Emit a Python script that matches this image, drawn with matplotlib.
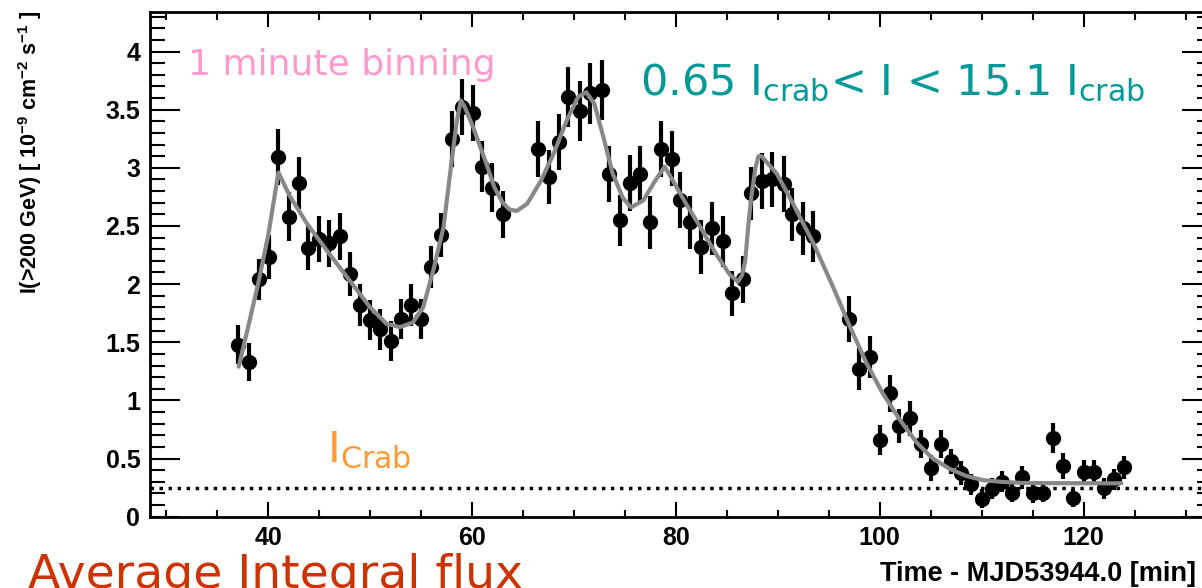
import matplotlib
matplotlib.use("Agg")
import matplotlib.pyplot as plt
from matplotlib.ticker import MultipleLocator, FormatStrFormatter

# 1-minute binned integral flux above 200 GeV, in units of 1e-9 cm^-2 s^-1
time_min = [37.0, 38.1, 39.1, 40.1, 41.0, 42.0, 43.0, 43.9, 45.0, 46.0,
            47.0, 48.0, 49.0, 50.0, 51.0, 52.0, 53.0, 54.0, 55.0, 56.0,
            57.0, 58.0, 59.0, 60.1, 61.0, 62.0, 63.0, 66.5, 67.5, 68.5,
            69.4, 70.6, 71.6, 72.7, 73.4, 74.5, 75.5, 76.5, 77.5, 78.5,
            79.6, 80.4, 81.4, 82.5, 83.5, 84.6, 85.5, 86.6, 87.4, 88.4,
            89.4, 90.6, 91.4, 92.5, 93.5, 97.0, 98.0, 99.0, 100.0, 101.0,
            101.9, 103.0, 104.0, 105.0, 106.0, 107.0, 108.0, 109.0, 110.0, 111.0,
            112.0, 113.0, 114.0, 115.0, 116.0, 117.0, 118.0, 119.0, 120.0, 121.0,
            122.0, 123.0, 124.0]
flux = [1.48, 1.33, 2.04, 2.23, 3.09, 2.58, 2.87, 2.31, 2.39, 2.35,
        2.41, 2.085, 1.82, 1.69, 1.61, 1.51, 1.70, 1.82, 1.70, 2.15,
        2.42, 3.25, 3.52, 3.47, 3.01, 2.83, 2.60, 3.16, 2.92, 3.22,
        3.61, 3.49, 3.64, 3.67, 2.95, 2.55, 2.87, 2.95, 2.53, 3.16,
        3.08, 2.72, 2.53, 2.32, 2.48, 2.37, 1.92, 2.04, 2.78, 2.89,
        2.90, 2.86, 2.60, 2.48, 2.41, 1.70, 1.27, 1.37, 0.66, 1.06,
        0.78, 0.845, 0.625, 0.42, 0.625, 0.475, 0.375, 0.28, 0.155, 0.24,
        0.30, 0.205, 0.34, 0.20, 0.205, 0.68, 0.435, 0.16, 0.385, 0.385,
        0.245, 0.32, 0.425]
flux_err = [0.165, 0.16, 0.18, 0.19, 0.24, 0.21, 0.22, 0.19, 0.20, 0.20,
            0.20, 0.19, 0.18, 0.17, 0.18, 0.17, 0.17, 0.18, 0.17, 0.18,
            0.19, 0.24, 0.24, 0.24, 0.22, 0.21, 0.20, 0.24, 0.23, 0.24,
            0.26, 0.26, 0.26, 0.26, 0.24, 0.22, 0.24, 0.24, 0.23, 0.24,
            0.24, 0.24, 0.23, 0.23, 0.23, 0.22, 0.19, 0.20, 0.23, 0.24,
            0.24, 0.24, 0.23, 0.23, 0.22, 0.20, 0.18, 0.18, 0.13, 0.16,
            0.15, 0.15, 0.12, 0.11, 0.12, 0.11, 0.10, 0.09, 0.08, 0.09,
            0.09, 0.08, 0.10, 0.08, 0.08, 0.13, 0.11, 0.08, 0.10, 0.10,
            0.09, 0.09, 0.10]

# multi-flare fit curve
fit_time = [37.1, 38.0, 39.0, 40.0, 41.0, 42.1, 43.8, 46.0, 48.0, 50.0,
            51.6, 52.9, 54.2, 55.2, 56.2, 57.2, 58.0, 58.5, 58.9, 59.3,
            60.1, 61.3, 62.2, 63.0, 63.7, 64.4, 65.4, 66.7, 68.0, 69.3, 70.4,
            71.2, 72.0, 72.9, 73.8, 74.8, 75.6, 76.8, 77.9, 78.9, 79.7,
            81.0, 82.4, 84.0, 85.3, 86.1, 86.5, 86.8, 87.1, 87.4, 87.8,
            88.1, 88.4, 89.9, 91.5, 93.5, 95.4, 97.1, 98.7, 100.3, 102.0,
            103.6, 105.2, 106.9, 108.5, 110.1, 111.8, 114.0, 118.0, 123.7]
fit_flux = [1.29, 1.62, 2.00, 2.42, 2.96, 2.76, 2.52, 2.26, 2.03, 1.80,
            1.66, 1.63, 1.67, 1.80, 2.12, 2.49, 3.06, 3.40, 3.58, 3.52,
            3.35, 3.06, 2.83, 2.70, 2.64, 2.63, 2.69, 2.88, 3.12, 3.41, 3.61,
            3.65, 3.55, 3.26, 2.95, 2.74, 2.66, 2.72, 2.88, 3.01, 2.89,
            2.69, 2.49, 2.25, 2.08, 2.02, 2.08, 2.20, 2.50, 2.75, 3.00,
            3.10, 3.10, 2.95, 2.69, 2.35, 1.98, 1.63, 1.32, 1.06, 0.83,
            0.64, 0.50, 0.41, 0.35, 0.315, 0.30, 0.29, 0.288, 0.287]

i_crab = 0.245

plt.rcParams['font.family'] = ['Liberation Sans', 'DejaVu Sans']
plt.rcParams['font.weight'] = 'bold'
plt.rcParams['mathtext.fontset'] = 'custom'
plt.rcParams['mathtext.rm'] = 'DejaVu Sans'

W, H = 1202, 588
fig = plt.figure(figsize=(W / 100, H / 100), dpi=100)


def px(x, y):
    # pixel position (from top-left) -> figure fraction
    return x / W, 1 - y / H


ax = fig.add_axes([150 / W, (H - 516.7) / H, (1212 - 150) / W, (516.7 - 12) / H])

ax.errorbar(time_min, flux, yerr=flux_err, fmt='o', color='black', ms=10,
            elinewidth=3, capsize=0, zorder=3)
ax.plot(fit_time, fit_flux, color='#888888', lw=3, zorder=4,
        solid_joinstyle='round', solid_capstyle='round')
ax.axhline(i_crab, color='black', lw=2.5, ls=(0, (1, 1.6)), zorder=2)

ax.set_xlim(28.4, 132.6)
ax.set_ylim(0, 4.34)

ax.xaxis.set_major_locator(MultipleLocator(20))
ax.xaxis.set_minor_locator(MultipleLocator(5))
ax.yaxis.set_major_locator(MultipleLocator(0.5))
ax.yaxis.set_minor_locator(MultipleLocator(0.1))
ax.yaxis.set_major_formatter(FormatStrFormatter('%g'))

ax.tick_params(which='both', direction='in', top=True, right=True,
               labelsize=18, width=1.5)
ax.tick_params(axis='x', which='major', length=10.8, pad=7)
ax.tick_params(axis='x', which='minor', length=5.4)
ax.tick_params(axis='y', which='major', length=21.6, pad=7)
ax.tick_params(axis='y', which='minor', length=10.8)
for s in ax.spines.values():
    s.set_linewidth(2)

# axis titles, ROOT style (aligned to the axis ends)
fig.text(*px(30, 10), r'I(>200 GeV) [ 10$^{\mathregular{-9}}$ cm$^{\mathregular{-2}}$ s$^{\mathregular{-1}}$ ]',
         rotation=90, ha='center', va='top', fontsize=15.5)
fig.text(*px(1196, 574), 'Time - MJD53944.0 [min]', ha='right', va='center',
         fontsize=19.5)

# annotations
fig.text(*px(188, 75), '1 minute binning', color='#ff99cc', fontsize=26,
         fontweight='normal', family='DejaVu Sans', va='baseline')
fig.text(*px(640, 95), r'0.65 I$_{\mathregular{crab}}$< I < 15.1 I$_{\mathregular{crab}}$',
         color='#009999', fontsize=31, fontweight='normal', family='DejaVu Sans',
         va='baseline')
fig.text(*px(327, 462), r'I$_{\mathregular{Crab}}$', color='#ff9933', fontsize=31,
         fontweight='normal', family='DejaVu Sans', va='baseline')
fig.text(*px(28, 588), 'Average Integral flux', color='#cc3300', fontsize=34,
         fontweight='normal', family='DejaVu Sans', va='baseline')

fig.savefig('out.png', dpi=100)
